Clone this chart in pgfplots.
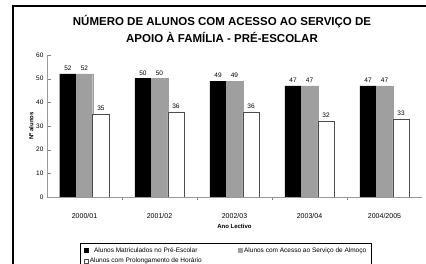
\documentclass[border=0pt]{standalone}
\usepackage{pgfplots}
\pgfplotsset{compat=1.18}
\usepackage{fontspec}
\setmainfont{Liberation Sans}
\begin{document}
\begin{tikzpicture}[x=1pt,y=1pt]
\path[use as bounding box] (0,0) rectangle (426,264);
\draw[line width=1.3pt] (13,-2) -- (13,258) -- (428,258);
\node[font=\bfseries\fontsize{11.5}{17.5}\selectfont, align=center] at (222,235)
  {NÚMERO DE ALUNOS COM ACESSO AO SERVIÇO DE\\APOIO À FAMÍLIA - PRÉ-ESCOLAR};
\begin{axis}[
  at={(47pt,67pt)}, anchor=south west,
  scale only axis, width=375pt, height=142pt,
  ybar=0pt, bar width=16.5pt,
  xmin=-0.5, xmax=4.5, ymin=0, ymax=60,
  ytick={0,10,...,60},
  xtick={0,1,2,3,4},
  xticklabels={2000/01,2001/02,2002/03,2003/04,2004/2005},
  /pgf/number format/assume math mode=true,
  major x tick style={draw=none},
  minor xtick={0.5,1.5,2.5,3.5},
  minor tick length=3pt,
  tick style={gray},
  axis line style={gray!80},
  axis x line*=bottom, axis y line*=left,
  ticklabel style={font=\fontsize{6.5}{7}\selectfont},
  xticklabel style={font=\fontsize{7}{8}\selectfont, yshift=-9pt},
  xlabel={Ano Lectivo}, xlabel style={font=\bfseries\fontsize{6}{7}\selectfont, yshift=2pt},
  ylabel={Nº alunos}, ylabel style={font=\bfseries\fontsize{6}{7}\selectfont, yshift=-4pt},
  nodes near coords,
  every node near coord/.append style={font=\fontsize{6.5}{7}\selectfont, black},
  legend style={at={(0.477,-0.324)}, anchor=north, legend columns=2,
    font=\fontsize{6.5}{7.5}\selectfont, draw=black, line width=0.8pt,
    /tikz/every even column/.append style={column sep=34pt}},
  legend image code/.code={\draw[#1, line width=0.3pt] (0pt,-2pt) rectangle (4pt,2pt);},
]
\addplot[fill=black, draw=black] coordinates {(0,52) (1,50) (2,49) (3,47) (4,47)};
\addplot[fill=gray!75, draw=gray!75] coordinates {(0,52) (1,50) (2,49) (3,47) (4,47)};
\addplot[fill=white, draw=black!70, line width=0.5pt] coordinates {(0,35) (1,36) (2,36) (3,32) (4,33)};
\legend{Alunos Matriculados no Pré-Escolar, Alunos com Acesso ao Serviço de Almoço, Alunos com Prolongamento de Horário}
\end{axis}
\end{tikzpicture}
\end{document}
